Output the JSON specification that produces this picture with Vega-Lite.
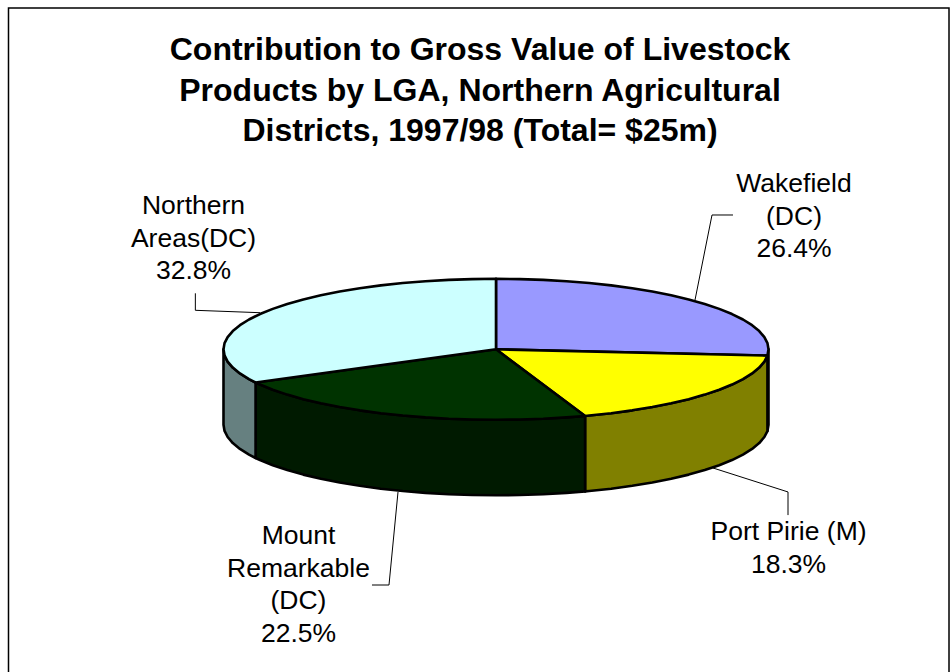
{
"$schema":"https://vega.github.io/schema/vega-lite/v6.json",
"width":951,"height":672,"padding":0,"autosize":{"type":"none"},"background":"white",
"view":{"stroke":null},
"title":{"text":["Contribution to Gross Value of Livestock","Products by LGA, Northern Agricultural","Districts, 1997/98 (Total= $25m)"],"font":"Liberation Sans","fontWeight":"bold","fontSize":32,"lineHeight":40.5,"color":"black","anchor":"middle","frame":"group","baseline":"top","offset":0,"dx":4.5,"dy":148},
"projection":{"type":"identity","reflectY":true,"scale":272.5,"translate":[496,349.3]},
"layer":[
{"data":{"values":[
{"type":"Feature","properties":{"part":"frame"},"geometry":{"type":"LineString","coordinates":[[-1.789,-1.287],[-1.789,1.2525],[1.6624,1.2525],[1.6624,-1.287]]}},
{"type":"Feature","properties":{"part":"leader"},"geometry":{"type":"LineString","coordinates":[[-1.1033,0.2055],[-1.1033,0.1431],[-0.8661,0.1343]]}},
{"type":"Feature","properties":{"part":"leader"},"geometry":{"type":"LineString","coordinates":[[0.8697,0.4929],[0.7927,0.4929],[0.7303,0.1809]]}},
{"type":"Feature","properties":{"part":"leader"},"geometry":{"type":"LineString","coordinates":[[0.7963,-0.4355],[1.0716,-0.5235],[1.0716,-0.6084]]}},
{"type":"Feature","properties":{"part":"leader"},"geometry":{"type":"LineString","coordinates":[[-0.3596,-0.5237],[-0.3927,-0.865],[-0.4551,-0.865]]}}
]},
"mark":{"type":"geoshape","filled":false,"fill":null,"stroke":"black"},
"encoding":{"strokeWidth":{"field":"properties.part","type":"nominal","legend":null,"scale":{"domain":["frame","leader"],"range":[1.5,1]}}}},
{"data":{"values":[
{"type":"Feature","properties":{"slice":"Wakefield side"},"geometry":{"type":"Polygon","coordinates":[[[1,0],[0.9961,-0.0231],[0.9961,-0.3001],[1,-0.277],[1,0]]]}},
{"type":"Feature","properties":{"slice":"Port Pirie side"},"geometry":{"type":"Polygon","coordinates":[[[0.9961,-0.0231],[0.9848,-0.0449],[0.9659,-0.067],[0.9397,-0.0885],[0.9063,-0.1093],[0.866,-0.1294],[0.8192,-0.1484],[0.766,-0.1663],[0.7071,-0.1829],[0.6428,-0.1982],[0.5736,-0.2119],[0.5,-0.224],[0.4226,-0.2345],[0.342,-0.2431],[0.3269,-0.2445],[0.3269,-0.5215],[0.342,-0.5201],[0.4226,-0.5115],[0.5,-0.501],[0.5736,-0.4889],[0.6428,-0.4752],[0.7071,-0.4599],[0.766,-0.4433],[0.8192,-0.4254],[0.866,-0.4064],[0.9063,-0.3863],[0.9397,-0.3655],[0.9659,-0.344],[0.9848,-0.3219],[0.9961,-0.3001],[0.9961,-0.0231]]]}},
{"type":"Feature","properties":{"slice":"Mount Remarkable side"},"geometry":{"type":"Polygon","coordinates":[[[0.3269,-0.2445],[0.2588,-0.2499],[0.1736,-0.2548],[0.0872,-0.2577],[0,-0.2587],[-0.0872,-0.2577],[-0.1736,-0.2548],[-0.2588,-0.2499],[-0.342,-0.2431],[-0.4226,-0.2345],[-0.5,-0.224],[-0.5736,-0.2119],[-0.6428,-0.1982],[-0.7071,-0.1829],[-0.766,-0.1663],[-0.8192,-0.1484],[-0.866,-0.1294],[-0.8823,-0.1218],[-0.8823,-0.3988],[-0.866,-0.4064],[-0.8192,-0.4254],[-0.766,-0.4433],[-0.7071,-0.4599],[-0.6428,-0.4752],[-0.5736,-0.4889],[-0.5,-0.501],[-0.4226,-0.5115],[-0.342,-0.5201],[-0.2588,-0.5269],[-0.1736,-0.5318],[-0.0872,-0.5347],[0,-0.5357],[0.0872,-0.5347],[0.1736,-0.5318],[0.2588,-0.5269],[0.3269,-0.5215],[0.3269,-0.2445]]]}},
{"type":"Feature","properties":{"slice":"Northern Areas side"},"geometry":{"type":"Polygon","coordinates":[[[-0.8823,-0.1218],[-0.9063,-0.1093],[-0.9397,-0.0885],[-0.9659,-0.067],[-0.9848,-0.0449],[-0.9962,-0.0226],[-1,0],[-1,-0.277],[-0.9962,-0.2996],[-0.9848,-0.3219],[-0.9659,-0.344],[-0.9397,-0.3655],[-0.9063,-0.3863],[-0.8823,-0.3988],[-0.8823,-0.1218]]]}},
{"type":"Feature","properties":{"slice":"Wakefield","share":26.4},"geometry":{"type":"Polygon","coordinates":[[[0,0],[0,0.2587],[0.0872,0.2577],[0.1736,0.2548],[0.2588,0.2499],[0.342,0.2431],[0.4226,0.2345],[0.5,0.224],[0.5736,0.2119],[0.6428,0.1982],[0.7071,0.1829],[0.766,0.1663],[0.8192,0.1484],[0.866,0.1294],[0.9063,0.1093],[0.9397,0.0885],[0.9659,0.067],[0.9848,0.0449],[0.9962,0.0226],[1,0],[0.9961,-0.0231],[0,0]]]}},
{"type":"Feature","properties":{"slice":"Port Pirie","share":18.3},"geometry":{"type":"Polygon","coordinates":[[[0,0],[0.9961,-0.0231],[0.9848,-0.0449],[0.9659,-0.067],[0.9397,-0.0885],[0.9063,-0.1093],[0.866,-0.1294],[0.8192,-0.1484],[0.766,-0.1663],[0.7071,-0.1829],[0.6428,-0.1982],[0.5736,-0.2119],[0.5,-0.224],[0.4226,-0.2345],[0.342,-0.2431],[0.3269,-0.2445],[0,0]]]}},
{"type":"Feature","properties":{"slice":"Mount Remarkable","share":22.5},"geometry":{"type":"Polygon","coordinates":[[[0,0],[0.3269,-0.2445],[0.2588,-0.2499],[0.1736,-0.2548],[0.0872,-0.2577],[0,-0.2587],[-0.0872,-0.2577],[-0.1736,-0.2548],[-0.2588,-0.2499],[-0.342,-0.2431],[-0.4226,-0.2345],[-0.5,-0.224],[-0.5736,-0.2119],[-0.6428,-0.1982],[-0.7071,-0.1829],[-0.766,-0.1663],[-0.8192,-0.1484],[-0.866,-0.1294],[-0.8823,-0.1218],[0,0]]]}},
{"type":"Feature","properties":{"slice":"Northern Areas","share":32.8},"geometry":{"type":"Polygon","coordinates":[[[0,0],[-0.8823,-0.1218],[-0.9063,-0.1093],[-0.9397,-0.0885],[-0.9659,-0.067],[-0.9848,-0.0449],[-0.9962,-0.0226],[-1,0],[-0.9962,0.0226],[-0.9848,0.0449],[-0.9659,0.067],[-0.9397,0.0885],[-0.9063,0.1093],[-0.866,0.1294],[-0.8192,0.1484],[-0.766,0.1663],[-0.7071,0.1829],[-0.6428,0.1982],[-0.5736,0.2119],[-0.5,0.224],[-0.4226,0.2345],[-0.342,0.2431],[-0.2588,0.2499],[-0.1736,0.2548],[-0.0872,0.2577],[0,0.2587],[0,0]]]}}
]},
"mark":{"type":"geoshape","stroke":"black","strokeWidth":2.6,"strokeJoin":"round"},
"encoding":{"fill":{"field":"properties.slice","type":"nominal","legend":null,"scale":{
"domain":["Wakefield side","Port Pirie side","Mount Remarkable side","Northern Areas side","Wakefield","Port Pirie","Mount Remarkable","Northern Areas"],
"range":["#4c4c80","#808000","#001a00","#668080","#9999ff","#ffff00","#003300","#ccffff"]}}}},
{"data":{"values":[
{"label":"Wakefield\n(DC)\n26.4%","lon":1.0936,"lat":0.6066},
{"label":"Northern\nAreas(DC)\n32.8%","lon":-1.1101,"lat":0.5259},
{"label":"Port Pirie (M)\n18.3%","lon":1.0734,"lat":-0.6707},
{"label":"Mount\nRemarkable\n(DC)\n22.5%","lon":-0.7248,"lat":-0.6851}
]},
"mark":{"type":"text","font":"Liberation Sans","fontSize":26.5,"lineHeight":32.7,"lineBreak":"\n","align":"center","baseline":"middle","color":"black"},
"encoding":{"longitude":{"field":"lon","type":"quantitative"},"latitude":{"field":"lat","type":"quantitative"},"text":{"field":"label","type":"nominal"}}}
]
}
